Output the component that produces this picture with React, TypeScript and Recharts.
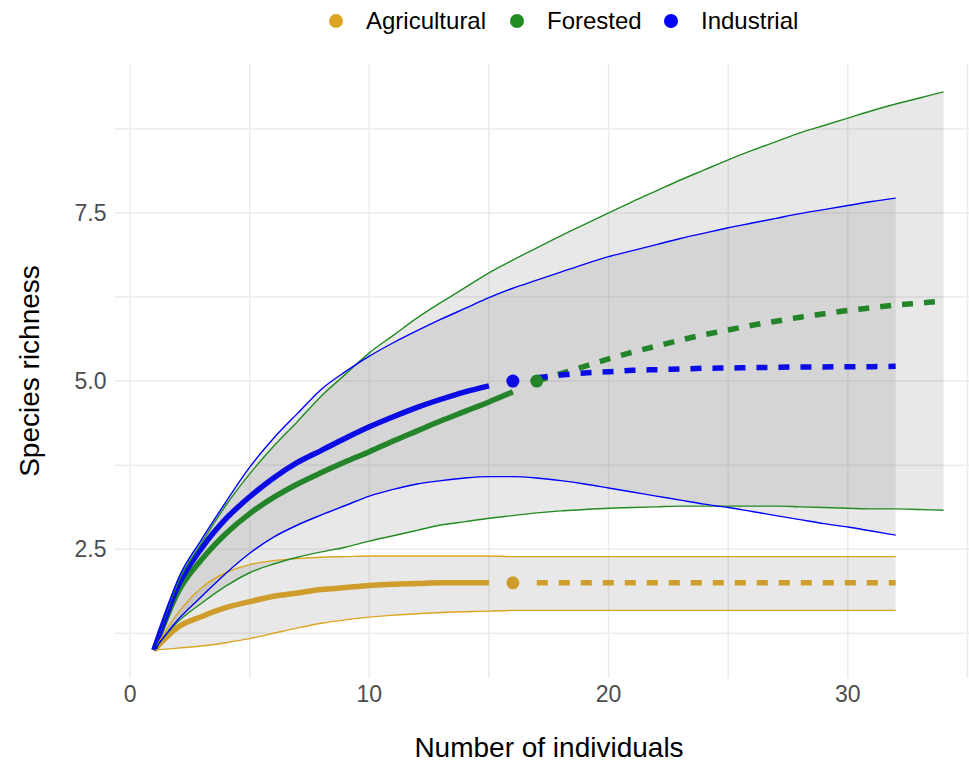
import React from "react";
import { ComposedChart, Line, Area, Scatter, XAxis, YAxis, CartesianGrid } from "recharts";

// Sample sizes (number of individuals)
const sampleSizes = [1, 2, 3, 4, 5, 6, 7, 8, 9, 10, 11, 12, 13, 14, 15, 16, 17, 18, 19, 20, 21, 22, 23, 24, 25, 26, 27, 28, 29, 30, 31, 32, 33, 34];

// Agricultural (rarefaction 1..15, observed 16, extrapolation 17..32, band 1..32)
const agriRare = [1.0, 1.34, 1.5, 1.63, 1.72, 1.8, 1.85, 1.9, 1.93, 1.96, 1.98, 1.99, 2.0, 2.0, 2.0];
const agriObs = [{ x: 16, y: 2.0 }];
const agriExtra = [2.0, 2.0, 2.0, 2.0, 2.0, 2.0, 2.0, 2.0, 2.0, 2.0, 2.0, 2.0, 2.0, 2.0, 2.0, 2.0];
const agriLow = [1.0, 1.03, 1.06, 1.11, 1.17, 1.25, 1.33, 1.4, 1.45, 1.49, 1.52, 1.54, 1.56, 1.57, 1.58, 1.59, 1.59, 1.59, 1.59, 1.59, 1.59, 1.59, 1.59, 1.59, 1.59, 1.59, 1.59, 1.59, 1.59, 1.59, 1.59, 1.59];
const agriHigh = [1.0, 1.55, 1.93, 2.15, 2.27, 2.33, 2.36, 2.38, 2.39, 2.4, 2.4, 2.4, 2.4, 2.4, 2.4, 2.39, 2.39, 2.39, 2.39, 2.39, 2.39, 2.39, 2.39, 2.39, 2.39, 2.39, 2.39, 2.39, 2.39, 2.39, 2.39, 2.39];

// Forested (rarefaction 1..16, observed 17, extrapolation 17..34, band 1..34)
const forRare = [1.0, 1.86, 2.35, 2.73, 3.03, 3.27, 3.47, 3.64, 3.8, 3.95, 4.11, 4.26, 4.41, 4.55, 4.69, 4.84];
const forObs = [{ x: 17, y: 5.0 }];
const forExtra = [5.0, 5.11, 5.22, 5.33, 5.43, 5.52, 5.61, 5.69, 5.76, 5.83, 5.89, 5.95, 6.0, 6.05, 6.09, 6.13, 6.16, 6.19];
const forLow = [1.0, 1.42, 1.7, 1.95, 2.15, 2.28, 2.38, 2.46, 2.53, 2.62, 2.7, 2.78, 2.86, 2.91, 2.96, 3.0, 3.04, 3.07, 3.09, 3.11, 3.12, 3.13, 3.14, 3.14, 3.14, 3.14, 3.14, 3.13, 3.12, 3.11, 3.1, 3.1, 3.09, 3.08];
const forHigh = [1.0, 2.0, 2.6, 3.15, 3.62, 4.03, 4.4, 4.78, 5.1, 5.42, 5.68, 5.94, 6.17, 6.39, 6.61, 6.8, 6.98, 7.16, 7.33, 7.5, 7.67, 7.83, 7.99, 8.14, 8.29, 8.43, 8.56, 8.69, 8.8, 8.91, 9.02, 9.12, 9.21, 9.3];

// Industrial (rarefaction 1..15, observed 16, extrapolation 17..32, band 1..32)
const indRare = [1.0, 1.95, 2.52, 2.95, 3.28, 3.56, 3.79, 3.97, 4.15, 4.32, 4.47, 4.61, 4.73, 4.84, 4.93];
const indObs = [{ x: 16, y: 5.0 }];
const indExtra = [5.05, 5.09, 5.12, 5.14, 5.16, 5.17, 5.18, 5.19, 5.195, 5.2, 5.205, 5.21, 5.21, 5.215, 5.215, 5.22];
const indLow = [1.0, 1.45, 1.8, 2.14, 2.44, 2.68, 2.86, 3.01, 3.15, 3.29, 3.39, 3.47, 3.52, 3.56, 3.58, 3.58, 3.56, 3.52, 3.47, 3.41, 3.35, 3.29, 3.23, 3.17, 3.12, 3.06, 3.0, 2.94, 2.88, 2.83, 2.77, 2.71];
const indHigh = [1.0, 2.05, 2.65, 3.2, 3.72, 4.15, 4.52, 4.88, 5.14, 5.37, 5.57, 5.75, 5.92, 6.08, 6.24, 6.38, 6.5, 6.62, 6.74, 6.85, 6.94, 7.03, 7.12, 7.2, 7.28, 7.35, 7.42, 7.49, 7.55, 7.61, 7.67, 7.72];

const xTicks = [0, 5, 10, 15, 20, 25, 30, 35];
const xLabels = [0, 10, 20, 30];
const yTicks = [1.25, 2.5, 3.75, 5, 6.25, 7.5, 8.75];
const yLabels = [2.5, 5, 7.5];
const xDomain = [-0.65, 35.65];
const yDomain = [0.585, 9.715];

const legendItems = [
  { name: "Agricultural", color: "#DAA520" },
  { name: "Forested", color: "#228B22" },
  { name: "Industrial", color: "#0000FF" },
];

const at = (arr: number[], start: number, x: number) => {
  const i = x - start;
  return i >= 0 && i < arr.length ? arr[i] : null;
};

const rows = sampleSizes.map((x) => {
  const aL = at(agriLow, 1, x), aH = at(agriHigh, 1, x);
  const fL = at(forLow, 1, x), fH = at(forHigh, 1, x);
  const iL = at(indLow, 1, x), iH = at(indHigh, 1, x);
  return {
    x,
    agriRare: at(agriRare, 1, x),
    agriExtra: at(agriExtra, 17, x),
    agriLow: aL,
    agriHigh: aH,
    agriBand: aL != null && aH != null ? [aL, aH] : null,
    forRare: at(forRare, 1, x),
    forExtra: at(forExtra, 17, x),
    forLow: fL,
    forHigh: fH,
    forBand: fL != null && fH != null ? [fL, fH] : null,
    indRare: at(indRare, 1, x),
    indExtra: at(indExtra, 17, x),
    indLow: iL,
    indHigh: iH,
    indBand: iL != null && iH != null ? [iL, iH] : null,
  };
});

const FONT = "'Liberation Sans', Arial, Helvetica, sans-serif";
const GOLD = "#DAA520", GREEN = "#228B22", BLUE = "#0000FF";
const GOLD_D = "#CE9D2C", GREEN_D = "#24842A", BLUE_D = "#0B0BE6";

const dot = (color: string) => (p: any) => <circle cx={p.cx} cy={p.cy} r={6.5} fill={color} />;

export default function App() {
  const band = { stroke: "none", fill: "#808080", fillOpacity: 0.18, isAnimationActive: false, type: "monotone" as const, activeDot: false };
  const thin = (key: string, color: string) => (
    <Line key={key} dataKey={key} stroke={color} strokeWidth={1.4} dot={false} activeDot={false} isAnimationActive={false} type="monotone" />
  );
  const thick = (key: string, color: string, dashed: boolean) => (
    <Line key={key} dataKey={key} stroke={color} strokeWidth={5.5} strokeDasharray={dashed ? "11 11" : undefined} dot={false} activeDot={false} isAnimationActive={false} type="monotone" />
  );
  return (
    <div style={{ position: "absolute", left: 0, top: 0, width: 969, height: 774, overflow: "hidden", background: "#fff", fontFamily: FONT }}>
      <ComposedChart width={990} height={774} data={rows} margin={{ top: 64, right: 7, left: 0, bottom: 0 }}>
        <CartesianGrid
          stroke="#EBEBEB"
          strokeWidth={1.5}
          horizontalCoordinatesGenerator={(p: any) => {
            const o = p.offset;
            const s = p.yAxis && typeof p.yAxis.scale === "function" ? p.yAxis.scale : null;
            return yTicks.map((t) => (s ? s(t) : o.top + o.height * (1 - (t - yDomain[0]) / (yDomain[1] - yDomain[0]))));
          }}
          verticalCoordinatesGenerator={(p: any) => {
            const o = p.offset;
            const s = p.xAxis && typeof p.xAxis.scale === "function" ? p.xAxis.scale : null;
            return xTicks.map((t) => (s ? s(t) : o.left + (o.width * (t - xDomain[0])) / (xDomain[1] - xDomain[0])));
          }}
        />
        <XAxis
          dataKey="x"
          type="number"
          domain={xDomain}
          allowDataOverflow
          ticks={xTicks}
          tickFormatter={(v: number) => (xLabels.includes(v) ? String(v) : "")}
          axisLine={false}
          tickLine={false}
          height={96}
          tick={{ fill: "#4D4D4D", fontSize: 23, fontFamily: FONT }}
        />
        <YAxis
          type="number"
          domain={yDomain}
          allowDataOverflow
          ticks={yTicks}
          tickFormatter={(v: number) => (yLabels.includes(v) ? v.toFixed(1) : "")}
          axisLine={false}
          tickLine={false}
          width={114.5}
          tick={{ fill: "#4D4D4D", fontSize: 23, fontFamily: FONT }}
        />
        {thick("agriRare", GOLD_D, false)}
        {thick("agriExtra", GOLD_D, true)}
        {thick("forRare", GREEN_D, false)}
        {thick("forExtra", GREEN_D, true)}
        {thick("indRare", BLUE_D, false)}
        {thick("indExtra", BLUE_D, true)}
        <Area dataKey="agriBand" {...band} />
        <Area dataKey="forBand" {...band} />
        <Area dataKey="indBand" {...band} />
        {thin("agriLow", GOLD)}
        {thin("agriHigh", GOLD)}
        {thin("forLow", GREEN)}
        {thin("forHigh", GREEN)}
        {thin("indLow", BLUE)}
        {thin("indHigh", BLUE)}
        <Scatter data={agriObs} dataKey="y" shape={dot(GOLD_D)} isAnimationActive={false} />
        <Scatter data={forObs} dataKey="y" shape={dot(GREEN_D)} isAnimationActive={false} />
        <Scatter data={indObs} dataKey="y" shape={dot(BLUE_D)} isAnimationActive={false} />
      </ComposedChart>

      {/* Legend */}
      {legendItems.map((it, i) => {
        const dotX = [336, 517, 671][i];
        return (
          <div key={it.name}>
            <div style={{ position: "absolute", left: dotX - 7, top: 14, width: 14, height: 14, borderRadius: 7, background: it.color }} />
            <div style={{ position: "absolute", left: dotX + 30, top: 6, fontSize: 24, lineHeight: "30px", color: "#000", whiteSpace: "nowrap" }}>{it.name}</div>
          </div>
        );
      })}

      {/* Axis titles */}
      <div style={{ position: "absolute", left: 349, width: 400, top: 731, textAlign: "center", fontSize: 28, lineHeight: "34px", color: "#000" }}>
        Number of individuals
      </div>
      <div style={{ position: "absolute", left: 30 - 200, top: 371 - 17, width: 400, height: 34, textAlign: "center", fontSize: 28, lineHeight: "34px", color: "#000", transform: "rotate(-90deg)" }}>
        Species richness
      </div>
    </div>
  );
}
